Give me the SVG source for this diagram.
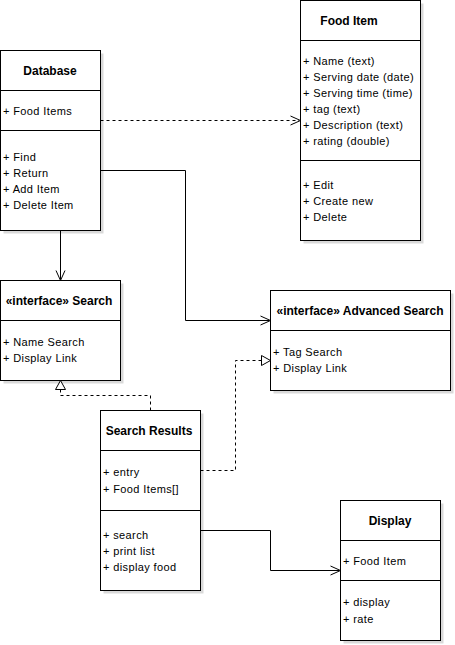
<svg xmlns="http://www.w3.org/2000/svg" width="455" height="645" viewBox="0 0 455 645">
<style>
.box{fill:#ffffff;stroke:#000000;stroke-width:1}
.shadow{fill:#d9d9d9}
.div{stroke:#000000;stroke-width:1;fill:none}
.t{font-family:"Liberation Sans",Arial,sans-serif;font-size:12px;font-weight:bold;fill:#000000;text-anchor:middle}
.m{font-family:"Liberation Sans",Arial,sans-serif;font-size:11px;fill:#000000;letter-spacing:0.38px}
.c{fill:none;stroke:#000000;stroke-width:1}
.d{fill:none;stroke:#000000;stroke-width:1;stroke-dasharray:3 3}
.tri{fill:#ffffff;stroke:#000000;stroke-width:1}
</style>
<rect width="455" height="645" fill="#ffffff"/>

<g id="database">
<rect class="shadow" x="3.5" y="53.5" width="100" height="180"/>
<rect class="box" x="0.5" y="50.5" width="100" height="180"/>
<line class="div" x1="0.5" y1="90.5" x2="100.5" y2="90.5"/>
<line class="div" x1="0.5" y1="130.5" x2="100.5" y2="130.5"/>
<text class="t" x="50" y="75">Database</text>
<text class="m" x="3" y="115">+ Food Items</text>
<text class="m" x="3" y="161">+ Find</text>
<text class="m" x="3" y="177">+ Return</text>
<text class="m" x="3" y="193">+ Add Item</text>
<text class="m" x="3" y="209">+ Delete Item</text>
</g>

<g id="food-item">
<rect class="shadow" x="303.5" y="3.5" width="120" height="240"/>
<rect class="box" x="300.5" y="0.5" width="120" height="240"/>
<line class="div" x1="300.5" y1="40.5" x2="420.5" y2="40.5"/>
<line class="div" x1="300.5" y1="160.5" x2="420.5" y2="160.5"/>
<text class="t" x="349" y="25">Food Item</text>
<text class="m" x="303" y="65">+ Name (text)</text>
<text class="m" x="303" y="81">+ Serving date (date)</text>
<text class="m" x="303" y="97">+ Serving time (time)</text>
<text class="m" x="303" y="113">+ tag (text)</text>
<text class="m" x="303" y="129">+ Description (text)</text>
<text class="m" x="303" y="145">+ rating (double)</text>
<text class="m" x="303" y="189">+ Edit</text>
<text class="m" x="303" y="205">+ Create new</text>
<text class="m" x="303" y="221">+ Delete</text>
</g>

<g id="search">
<rect class="shadow" x="3.5" y="283.5" width="120" height="100"/>
<rect class="box" x="0.5" y="280.5" width="120" height="100"/>
<line class="div" x1="0.5" y1="320.5" x2="120.5" y2="320.5"/>
<text class="t" x="59" y="305">«interface» Search</text>
<text class="m" x="3" y="346">+ Name Search</text>
<text class="m" x="3" y="362">+ Display Link</text>
</g>

<g id="advanced-search">
<rect class="shadow" x="273.5" y="293.5" width="180" height="100"/>
<rect class="box" x="270.5" y="290.5" width="180" height="100"/>
<line class="div" x1="270.5" y1="330.5" x2="450.5" y2="330.5"/>
<text class="t" x="360" y="315">«interface» Advanced Search</text>
<text class="m" x="273" y="356">+ Tag Search</text>
<text class="m" x="273" y="372">+ Display Link</text>
</g>

<g id="search-results">
<rect class="shadow" x="103.5" y="413.5" width="100" height="180"/>
<rect class="box" x="100.5" y="410.5" width="100" height="180"/>
<line class="div" x1="100.5" y1="450.5" x2="200.5" y2="450.5"/>
<line class="div" x1="100.5" y1="510.5" x2="200.5" y2="510.5"/>
<text class="t" x="149" y="435">Search Results</text>
<text class="m" x="103" y="476">+ entry</text>
<text class="m" x="103" y="493">+ Food Items[]</text>
<text class="m" x="103" y="539">+ search</text>
<text class="m" x="103" y="555">+ print list</text>
<text class="m" x="103" y="571">+ display food</text>
</g>

<g id="display">
<rect class="shadow" x="343.5" y="503.5" width="100" height="140"/>
<rect class="box" x="340.5" y="500.5" width="100" height="140"/>
<line class="div" x1="340.5" y1="540.5" x2="440.5" y2="540.5"/>
<line class="div" x1="340.5" y1="580.5" x2="440.5" y2="580.5"/>
<text class="t" x="390" y="525">Display</text>
<text class="m" x="343" y="565">+ Food Item</text>
<text class="m" x="343" y="606">+ display</text>
<text class="m" x="343" y="623">+ rate</text>
</g>

<g id="connectors">
<path class="d" d="M100.5 120.5 H299"/>
<path class="c" d="M290.5 116 L300.5 120.5 L290.5 125"/>
<path class="c" d="M100.5 170.5 H185.5 V320.5 H269.5"/>
<path class="c" d="M260.5 316 L270.5 320.5 L260.5 325"/>
<path class="c" d="M60.5 230.5 V279.5"/>
<path class="c" d="M56 270.5 L60.5 280.5 L65 270.5"/>
<path class="d" d="M150.5 410.5 V395.5 H60.5 V389.5"/>
<path class="tri" d="M60.5 380.5 L55.5 389.5 L65.5 389.5 Z"/>
<path class="d" d="M200.5 470.5 H235.5 V360.5 H261.5"/>
<path class="tri" d="M270.5 360.5 L261.5 355.5 L261.5 365.5 Z"/>
<path class="c" d="M200.5 530.5 H270.5 V570.5 H339.5"/>
<path class="c" d="M330.5 566 L340.5 570.5 L330.5 575"/>
</g>
</svg>
